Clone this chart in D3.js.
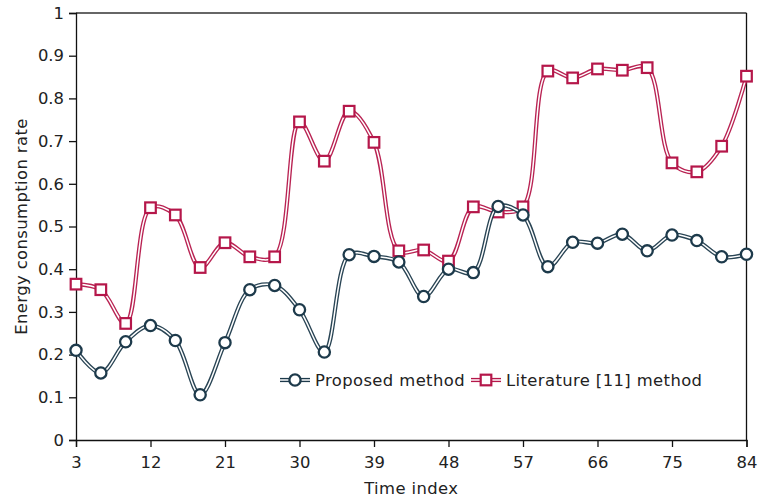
<!DOCTYPE html>
<html><head><meta charset="utf-8">
<script src="https://cdn.jsdelivr.net/npm/d3@7"></script>
<style>body{margin:0;background:#fff}svg{display:block}text{font-family:"DejaVu Sans",Verdana,sans-serif}</style>
</head><body>
<script>
const timeIndex = [3,6,9,12,15,18,21,24,27,30,33,36,39,42,45,48,51,54,57,60,63,66,69,72,75,78,81,84];
const proposed = [0.21,0.157,0.23,0.268,0.233,0.106,0.228,0.352,0.362,0.305,0.206,0.434,0.43,0.417,0.336,0.40,0.392,0.547,0.527,0.406,0.463,0.461,0.482,0.443,0.48,0.467,0.429,0.435];
const literature = [0.365,0.352,0.273,0.544,0.527,0.404,0.462,0.429,0.429,0.745,0.653,0.770,0.697,0.443,0.445,0.419,0.546,0.534,0.546,0.864,0.848,0.869,0.866,0.872,0.649,0.628,0.688,0.852];
const xTicks = [3,12,21,30,39,48,57,66,75,84];
const yTicks = [0,0.1,0.2,0.3,0.4,0.5,0.6,0.7,0.8,0.9,1];
const seriesNames = ["Proposed method","Literature [11] method"];
const colors = ["#1d3a4b","#b5174a"];

const FS=16.4, LS="0.4px";
const W=758,H=498, m={l:76,r:11.5,t:13,b:58};
const svg=d3.select("body").append("svg").attr("width",W).attr("height",H);
const x=d3.scaleLinear().domain([3,84]).range([m.l,W-m.r]);
const y=d3.scaleLinear().domain([0,1]).range([H-m.b,m.t]);

// frame top/right
svg.append("line").attr("x1",m.l).attr("x2",W-m.r).attr("y1",m.t).attr("y2",m.t).attr("stroke","#333").attr("stroke-width",1.3);
svg.append("line").attr("x1",W-m.r).attr("x2",W-m.r).attr("y1",m.t).attr("y2",H-m.b).attr("stroke","#111").attr("stroke-width",1.3);

const gx=svg.append("g").attr("transform",`translate(0,${H-m.b})`).call(d3.axisBottom(x).tickValues(xTicks).tickSize(7).tickPadding(9).tickFormat(d3.format("d")));
const gy=svg.append("g").attr("transform",`translate(${m.l},0)`).call(d3.axisLeft(y).tickValues(yTicks).tickSize(7).tickPadding(5).tickFormat(d=>d===0||d===1?String(d):d3.format(".1f")(d)));
[gx,gy].forEach(g=>{g.select(".domain").attr("stroke","#111").attr("stroke-width",1.3);g.selectAll(".tick line").attr("stroke","#111").attr("stroke-width",1.3);g.selectAll("text").attr("font-size",FS).attr("fill","#222").style("font-family",'"DejaVu Sans",Verdana,sans-serif');});

svg.append("text").attr("x",(m.l+W-m.r)/2).attr("y",494).attr("text-anchor","middle").attr("font-size",FS).attr("letter-spacing",LS).attr("fill","#222").text("Time index");
svg.append("text").attr("transform",`translate(27,${(m.t+H-m.b)/2}) rotate(-90)`).attr("text-anchor","middle").attr("font-size",FS).attr("letter-spacing",LS).attr("fill","#222").text("Energy consumption rate");

const line=d3.line().x((d,i)=>x(timeIndex[i])).y(d=>y(d)).curve(d3.curveCatmullRom.alpha(0.5));
function drawSeries(vals,ci,shape){
  const g=svg.append("g");
  g.append("path").attr("d",line(vals)).attr("fill","none").attr("stroke",colors[ci]).attr("stroke-width",4.2).attr("opacity",0.95);
  g.append("path").attr("d",line(vals)).attr("fill","none").attr("stroke","#fff").attr("stroke-width",1.5);
  vals.forEach((v,i)=>{
    if(shape==="circle") g.append("circle").attr("cx",x(timeIndex[i])).attr("cy",y(v)).attr("r",5.6).attr("fill","#fff").attr("stroke",colors[ci]).attr("stroke-width",2.3);
    else g.append("rect").attr("x",x(timeIndex[i])-5.3).attr("y",y(v)-5.3).attr("width",10.6).attr("height",10.6).attr("fill","#fff").attr("stroke",colors[ci]).attr("stroke-width",2.2);
  });
}
drawSeries(literature,1,"rect");
drawSeries(proposed,0,"circle");

// legend
function legendItem(x0,ci,shape,label){
  const yy=380;
  const g=svg.append("g");
  g.append("line").attr("x1",x0).attr("x2",x0+30).attr("y1",yy).attr("y2",yy).attr("stroke",colors[ci]).attr("stroke-width",4.2);
  g.append("line").attr("x1",x0).attr("x2",x0+30).attr("y1",yy).attr("y2",yy).attr("stroke","#fff").attr("stroke-width",1.5);
  const cx=x0+15;
  if(shape==="circle") g.append("circle").attr("cx",cx).attr("cy",yy).attr("r",5.6).attr("fill","#fff").attr("stroke",colors[ci]).attr("stroke-width",2.3);
  else g.append("rect").attr("x",cx-5.3).attr("y",yy-5.3).attr("width",10.6).attr("height",10.6).attr("fill","#fff").attr("stroke",colors[ci]).attr("stroke-width",2.2);
  g.append("text").attr("x",x0+35).attr("y",yy+6).attr("font-size",FS).attr("letter-spacing",LS).attr("fill","#222").text(label);
}
legendItem(280,0,"circle",seriesNames[0]);
legendItem(471,1,"rect",seriesNames[1]);
</script>
</body></html>
